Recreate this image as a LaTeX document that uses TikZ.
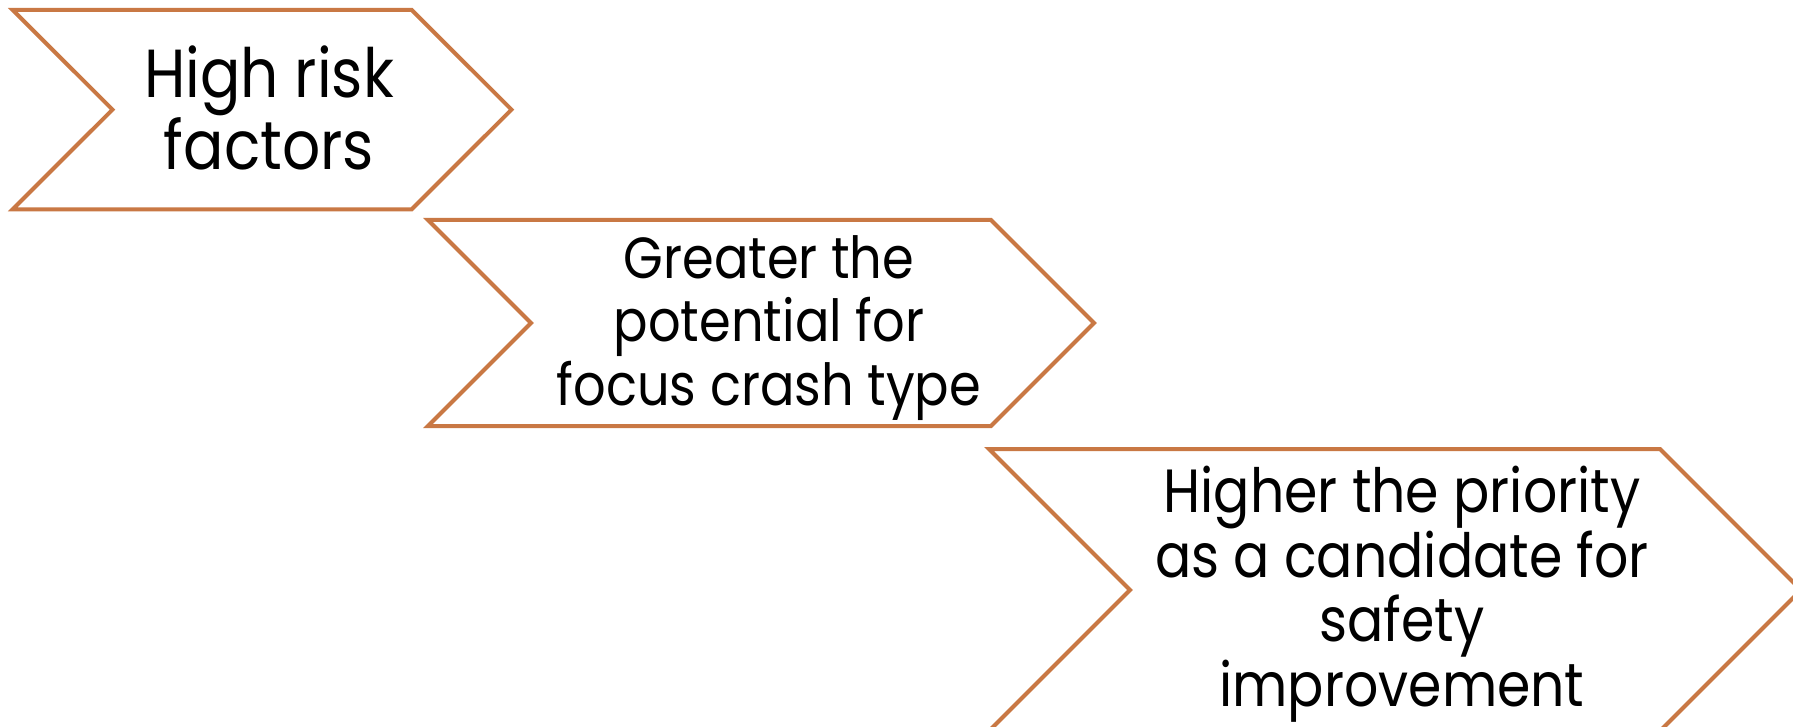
\documentclass[tikz,border=0pt]{standalone}
\usepackage{fontspec}
\newfontfamily\chevfont[FakeStretch=0.88]{Poppins}
\definecolor{chevline}{RGB}{201,120,68}
\begin{document}
\begin{tikzpicture}[x=1pt,y=-1pt,
  chev/.style={draw=chevline, line width=4pt, fill=white, line join=miter},
  lbl/.style={font=\chevfont\fontsize{58}{63.5}\selectfont, align=center, inner sep=0pt, text=black},
  lblbig/.style={lbl, font=\chevfont\fontsize{68}{72}\selectfont},
  lblmid/.style={lbl, font=\chevfont\fontsize{61}{64.5}\selectfont}]
\useasboundingbox (0,0) rectangle (1793,727);
\clip (0,0) rectangle (1793,727);
\fill[white] (0,0) rectangle (1793,727);
% chevrons
\draw[chev] (12.7,10) -- (411.7,10) -- (511.5,109.6) -- (411.7,209.3) -- (12.7,209.3) -- (112.5,109.6) -- cycle;
\draw[chev] (428,220) -- (991,220) -- (1094,323) -- (991,426) -- (428,426) -- (531,323) -- cycle;
\draw[chev] (989,449) -- (1660,449) -- (1801,590) -- (1660,731) -- (989,731) -- (1130,590) -- cycle;
% labels
\node[lblbig] (t1) at (269,108) {High risk\\factors};
\node[lbl] (t2) at (769,328) {Greater the\\potential for\\focus crash type};
\node[lblmid] (t3) at (1402,594) {Higher the priority\\as a candidate for\\safety\\improvement};
\end{tikzpicture}
\end{document}
